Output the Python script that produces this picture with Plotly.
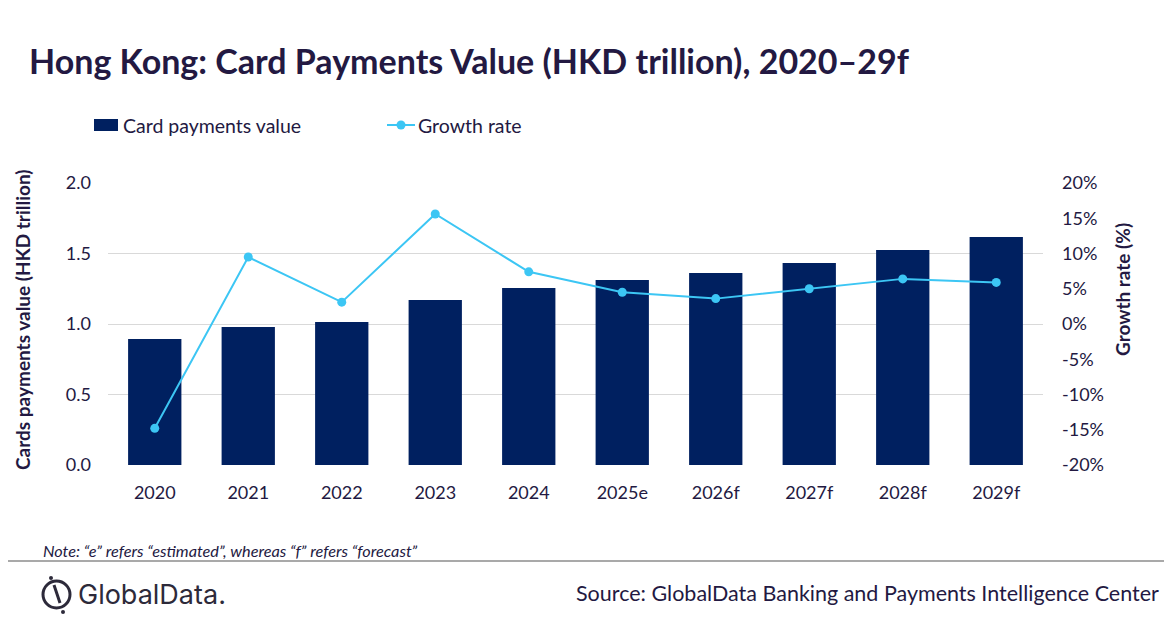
import plotly.graph_objects as go

years = ["2020", "2021", "2022", "2023", "2024", "2025e", "2026f", "2027f", "2028f", "2029f"]
card_value = [0.894, 0.979, 1.014, 1.170, 1.255, 1.312, 1.362, 1.433, 1.525, 1.617]
growth_rate = [-14.8, 9.5, 3.1, 15.6, 7.4, 4.5, 3.6, 5.0, 6.4, 5.9]

left_ticks = [0.0, 0.5, 1.0, 1.5, 2.0]
right_ticks = [-20, -15, -10, -5, 0, 5, 10, 15, 20]
right_labels = [f"{v}%" for v in right_ticks]

TXT = "#231942"
BAR = "#002060"
LINE = "#3cc6f4"
FONT = "Lato"

# page body adds an 8px offset; size the figure to fit the 1172x628 window
OFF = 8
W, H = 1172 - OFF, 628 - OFF
ML, MT = 108 - OFF, 183 - OFF
PW, PH = 935, 282
MR, MB = W - ML - PW, H - MT - PH

fig = go.Figure()
fig.add_trace(go.Bar(
    x=years, y=card_value, name="Card payments value",
    marker=dict(color=BAR, line=dict(width=0)), yaxis="y",
))
fig.add_trace(go.Scatter(
    x=years, y=growth_rate, name="Growth rate", mode="lines+markers",
    line=dict(color=LINE, width=2), marker=dict(color=LINE, size=9),
    yaxis="y2",
))

fig.update_layout(
    width=W, height=H,
    margin=dict(l=ML, r=MR, t=MT, b=MB, autoexpand=False),
    paper_bgcolor="white", plot_bgcolor="white",
    font=dict(family=FONT, color=TXT, size=18),
    bargap=0.43,
    showlegend=False,
    xaxis=dict(type="category", range=[-0.5, len(years) - 0.5],
               showgrid=False, showline=False, ticks="",
               automargin=False, ticklabelstandoff=15,
               tickfont=dict(size=18, color=TXT)),
    yaxis=dict(range=[0, 2.0], tickvals=left_ticks, tickformat=".1f",
               showgrid=True, gridcolor="#d9d9d9", gridwidth=1, zeroline=False,
               showline=False, ticks="", ticklabelstandoff=16, automargin=False,
               tickfont=dict(size=18, color=TXT)),
    yaxis2=dict(range=[-20, 20], tickvals=right_ticks, ticktext=right_labels,
                overlaying="y", side="right", showgrid=False, zeroline=False,
                showline=False, ticks="", ticklabelstandoff=18, automargin=False,
                tickfont=dict(size=18, color=TXT)),
)

def px_x(px):
    return (px - OFF - ML) / PW

def px_y(py):
    return (H - MB - (py - OFF)) / PH

def text(t, x, y, size, xanchor="left", angle=0, color=TXT, family=FONT):
    fig.add_annotation(text=t, xref="paper", yref="paper", x=px_x(x), y=px_y(y),
                       xanchor=xanchor, yanchor="middle", showarrow=False,
                       textangle=angle, borderpad=0,
                       font=dict(size=size, color=color, family=family))

text("<b>Hong Kong: Card Payments Value (HKD trillion), 2020–29f</b>", 28, 60, 34)
text("<b>Cards payments value (HKD trillion)</b>", 22, 320, 19, xanchor="center", angle=-90)
text("<b>Growth rate (%)</b>", 1122, 290, 19, xanchor="center", angle=-90)
text("<i>Note: “e” refers “estimated”, whereas “f” refers “forecast”</i>", 42, 550, 16.3)
text("Source: GlobalData Banking and Payments Intelligence Center", 1160, 593, 21.5, xanchor="right")
text("GlobalData.", 77, 594, 27, color="#2d2a3a", family="Inter")

# custom legend
fig.add_shape(type="rect", xref="paper", yref="paper",
              x0=px_x(94), x1=px_x(118), y0=px_y(131), y1=px_y(119),
              fillcolor=BAR, line=dict(width=0))
text("Card payments value", 122, 125, 19.5)
fig.add_shape(type="line", xref="paper", yref="paper",
              x0=px_x(387), x1=px_x(415), y0=px_y(125), y1=px_y(125),
              line=dict(color=LINE, width=2))
fig.add_shape(type="circle", xref="paper", yref="paper",
              x0=px_x(396.5), x1=px_x(405.5), y0=px_y(129.5), y1=px_y(120.5),
              fillcolor=LINE, line=dict(width=0))
text("Growth rate", 417, 125, 19.5)

# separator line
fig.add_shape(type="line", xref="paper", yref="paper",
              x0=px_x(0), x1=px_x(1172), y0=px_y(561), y1=px_y(561),
              line=dict(color="#8c8c8c", width=1.5))
# logo mark
fig.add_shape(type="circle", xref="paper", yref="paper",
              x0=px_x(43), x1=px_x(70), y0=px_y(608), y1=px_y(581),
              line=dict(color="#2d2a3a", width=3))
fig.add_shape(type="line", xref="paper", yref="paper",
              x0=px_x(54), x1=px_x(60), y0=px_y(585), y1=px_y(603),
              line=dict(color="#2d2a3a", width=3))
fig.add_shape(type="circle", xref="paper", yref="paper",
              x0=px_x(49), x1=px_x(53), y0=px_y(580), y1=px_y(576),
              fillcolor="#2d2a3a", line=dict(width=0))
fig.add_shape(type="circle", xref="paper", yref="paper",
              x0=px_x(61), x1=px_x(65), y0=px_y(614), y1=px_y(610),
              fillcolor="#2d2a3a", line=dict(width=0))

fig.write_html("out.html")
